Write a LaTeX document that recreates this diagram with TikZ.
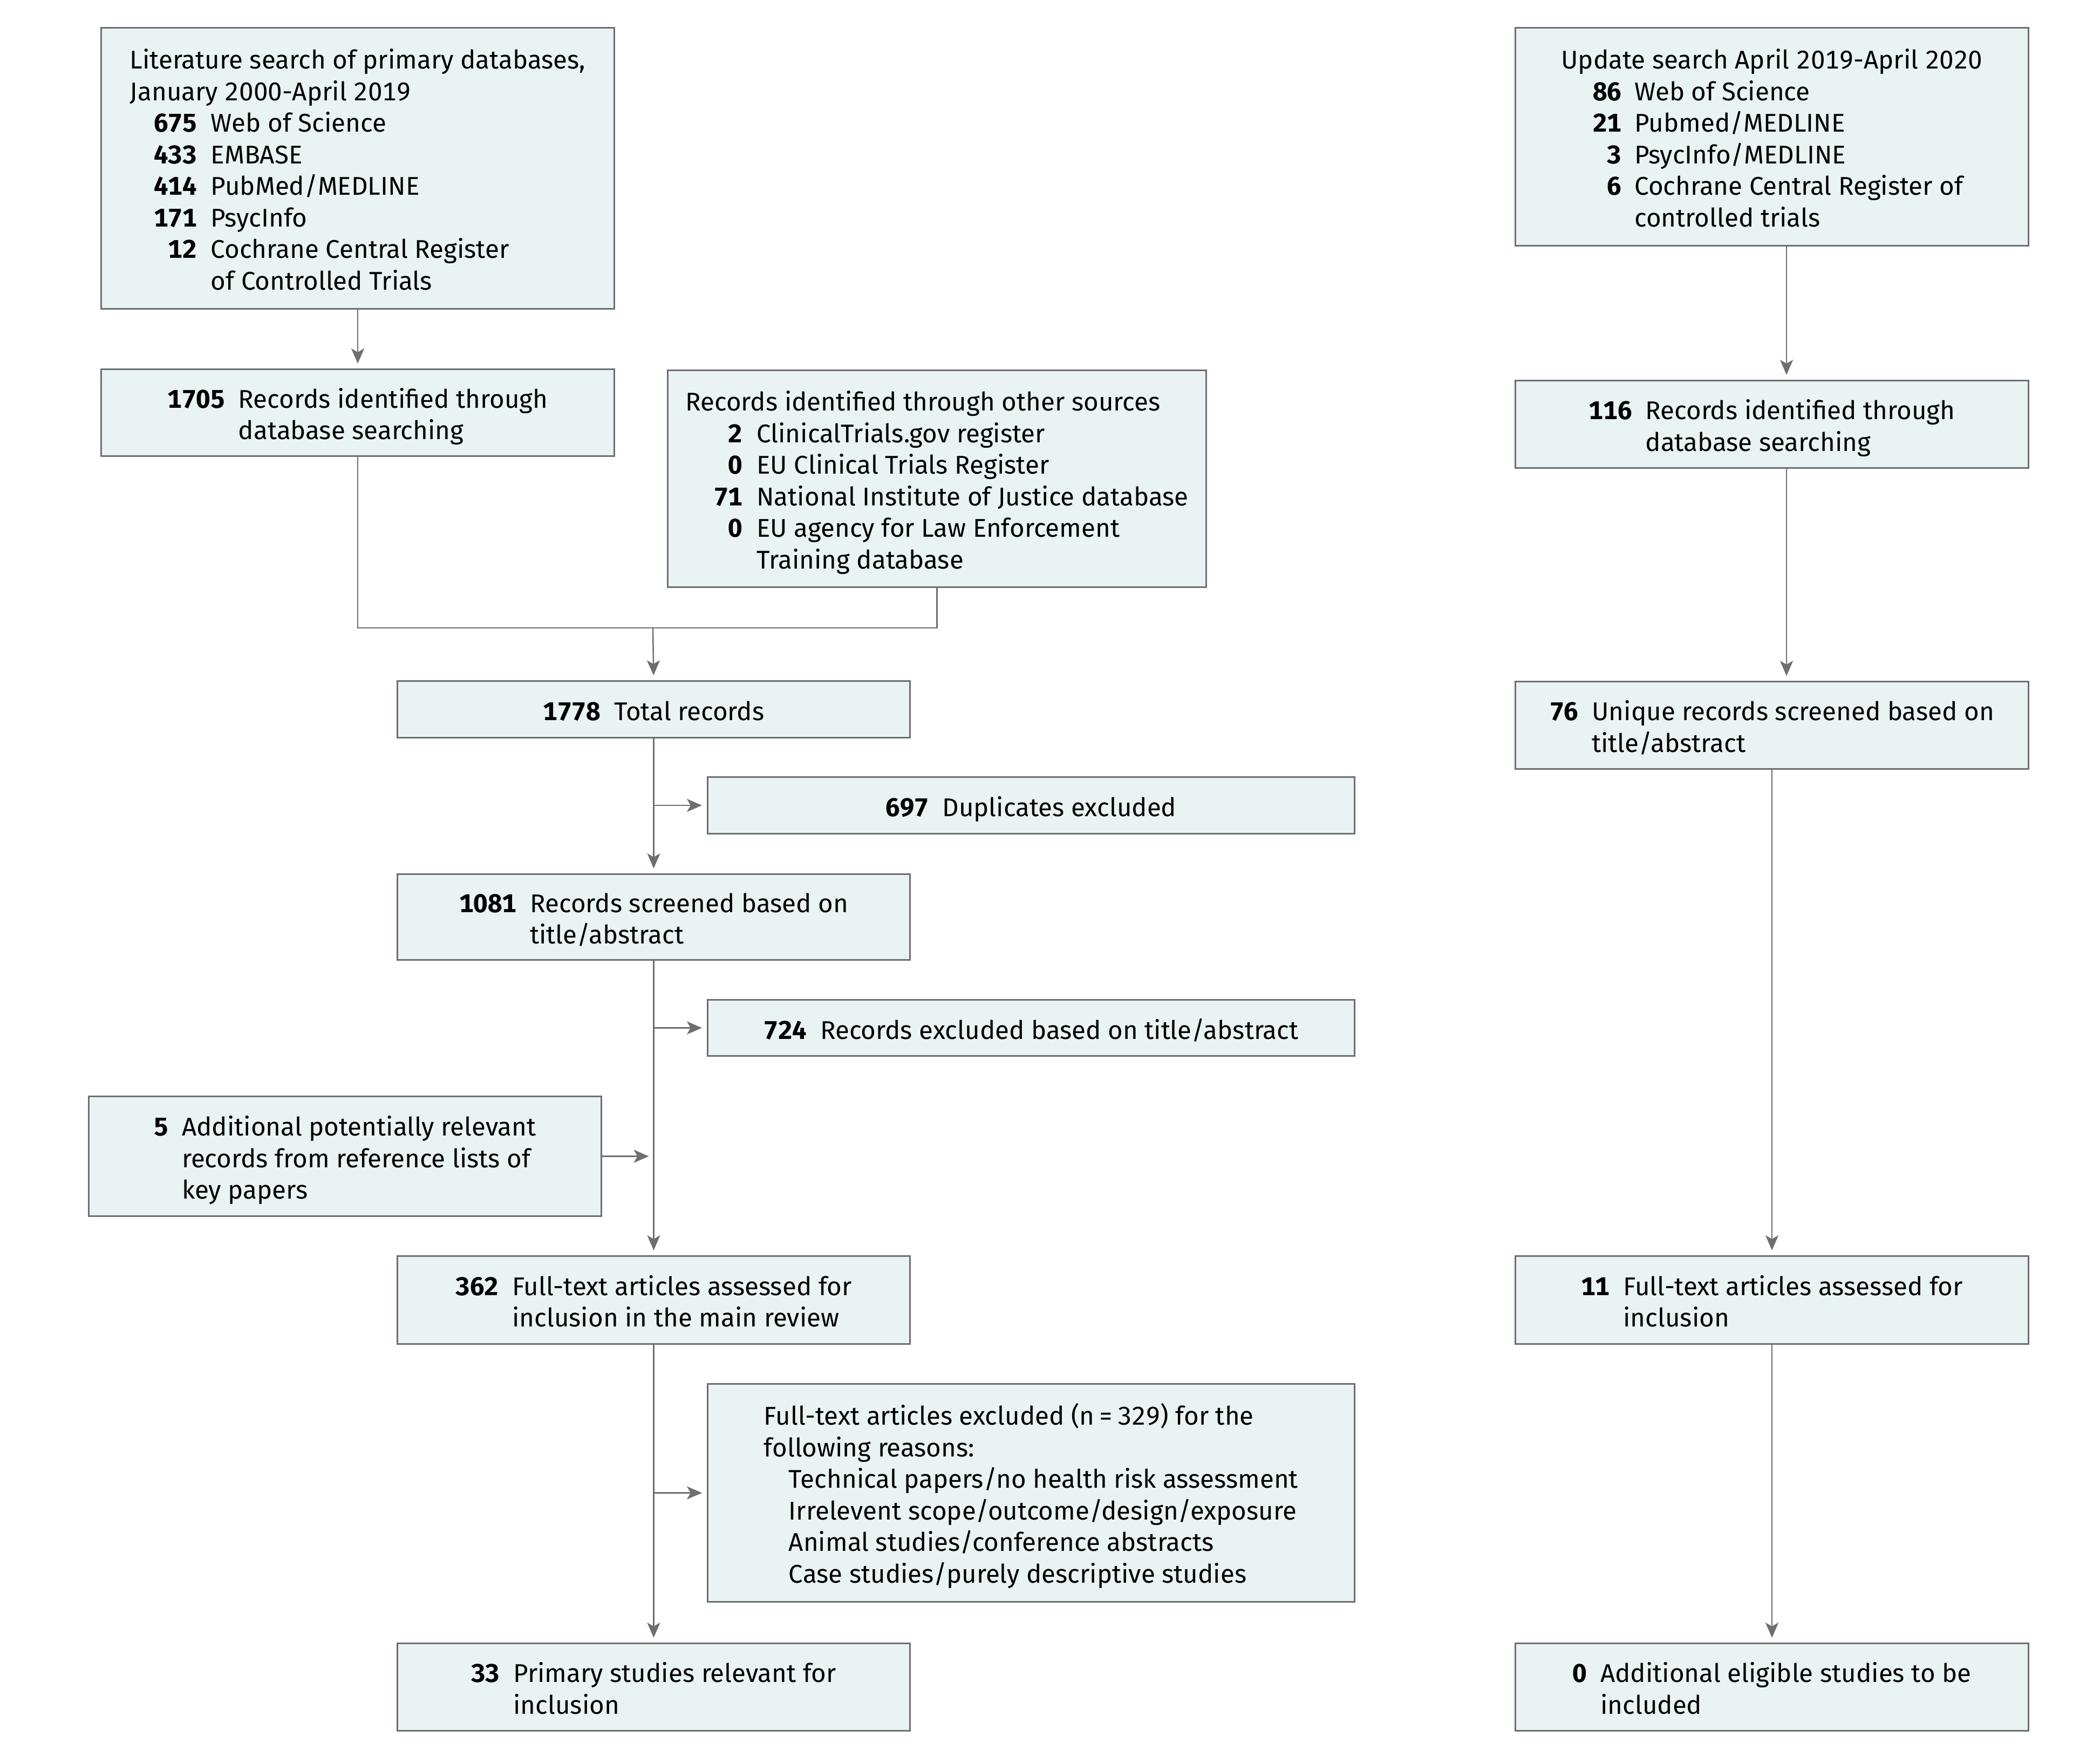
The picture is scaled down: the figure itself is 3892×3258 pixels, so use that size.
\documentclass[tikz,border=0pt]{standalone}
\usepackage{fontspec}
\setmainfont[Numbers=Monospaced]{Fira Sans}
\usepackage{array}
\usetikzlibrary{arrows.meta}
\definecolor{boxfill}{HTML}{E9F3F4}
\definecolor{boxline}{HTML}{6D6E71}
\newcolumntype{N}[1]{>{\raggedleft\arraybackslash\bfseries}p{#1}}
\newcommand\TB[2]{\raisebox{-9pt}[\height][\depth]{\begin{tabular}{#1}#2\end{tabular}}}
\tikzset{
  fbox/.style={draw=boxline, fill=boxfill, line width=3pt, inner sep=0pt, anchor=north west,
    font=\fontsize{47.5}{58.5}\selectfont},
  conn/.style={draw=boxline, line width=2.5pt},
  arr/.style={conn, -{Stealth[length=28pt,width=24pt,inset=7pt]}, shorten >=9pt},
}
\begin{document}
\begin{tikzpicture}[x=1pt,y=-1pt]
\useasboundingbox (0,0) rectangle (3892,3258);

% left column
\node[fbox, minimum width=951pt, minimum height=521pt] (b1) at (186,50) {%
\TB{@{}N{124pt}@{\hspace{26pt}}l@{}}{%
\multicolumn{2}{@{}l@{}}{Literature search of primary databases,}\\
\multicolumn{2}{@{}l@{}}{January 2000-April 2019}\\
675 & Web of Science\\
433 & EMBASE\\
414 & PubMed/MEDLINE\\
171 & PsycInfo\\
12 & Cochrane Central Register\\
 & of Controlled Trials}};

\node[fbox, minimum width=951pt, minimum height=161pt] (b2) at (186,683) {%
\TB{@{}>{\bfseries}r@{\hspace{25pt}}l@{}}{%
1705 & Records identified through\\
 & database searching}};

\node[fbox, minimum width=998pt, minimum height=402pt] (oth) at (1236,685) {%
\TB{@{}N{106pt}@{\hspace{26pt}}l@{}}{%
\multicolumn{2}{@{}l@{}}{Records identified through other sources}\\
2 & ClinicalTrials.gov register\\
0 & EU Clinical Trials Register\\
71 & National Institute of Justice database\\
0 & EU agency for Law Enforcement\\
 & Training database}};

\node[fbox, minimum width=950pt, minimum height=105pt] (tot) at (735,1261) {%
\TB{@{}>{\bfseries}r@{\hspace{25pt}}l@{}}{%
1778 & Total records}};

\node[fbox, minimum width=1199pt, minimum height=105pt] (dup) at (1310,1439) {%
\TB{@{}>{\bfseries}r@{\hspace{25pt}}l@{}}{%
697 & Duplicates excluded}};

\node[fbox, minimum width=950pt, minimum height=159pt] (s1081) at (735,1619) {%
\TB{@{}>{\bfseries}r@{\hspace{25pt}}l@{}}{%
1081 & Records screened based on\\
 & title/abstract}};

\node[fbox, minimum width=1199pt, minimum height=104pt] (ex724) at (1310,1852) {%
\TB{@{}>{\bfseries}r@{\hspace{25pt}}l@{}}{%
724 & Records excluded based on title/abstract}};

\node[fbox, minimum width=950pt, minimum height=222pt] (add5) at (163,2031) {%
\TB{@{}>{\bfseries}r@{\hspace{25pt}}l@{}}{%
5 & Additional potentially relevant\\
 & records from reference lists of\\
 & key papers}};

\node[fbox, minimum width=950pt, minimum height=163pt] (ft362) at (735,2327) {%
\TB{@{}>{\bfseries}r@{\hspace{25pt}}l@{}}{%
362 & Full-text articles assessed for\\
 & inclusion in the main review}};

\node[fbox, minimum width=1199pt, minimum height=404pt] (rsn) at (1310,2564) {%
\TB{@{}l@{}}{%
Full-text articles excluded (n\,=\,329) for the\\
following reasons:\\
\hspace*{46pt}Technical papers/no health risk assessment\\
\hspace*{46pt}Irrelevent scope/outcome/design/exposure\\
\hspace*{46pt}Animal studies/conference abstracts\\
\hspace*{46pt}Case studies/purely descriptive studies}};

\node[fbox, minimum width=950pt, minimum height=162pt] (inc33) at (735,3045) {%
\TB{@{}>{\bfseries}r@{\hspace{25pt}}l@{}}{%
33 & Primary studies relevant for\\
 & inclusion}};

% right column
\node[fbox, minimum width=951pt, minimum height=404pt] (upd) at (2807,50) {%
\TB{@{}N{112pt}@{\hspace{24pt}}l@{}}{%
\multicolumn{2}{@{}l@{}}{Update search April 2019-April 2020}\\
86 & Web of Science\\
21 & Pubmed/MEDLINE\\
3 & PsycInfo/MEDLINE\\
6 & Cochrane Central Register of\\
 & controlled trials}};

\node[fbox, minimum width=951pt, minimum height=162pt] (r116) at (2807,704) {%
\TB{@{}>{\bfseries}r@{\hspace{25pt}}l@{}}{%
116 & Records identified through\\
 & database searching}};

\node[fbox, minimum width=951pt, minimum height=162pt] (r76) at (2807,1262) {%
\TB{@{}>{\bfseries}r@{\hspace{25pt}}l@{}}{%
76 & Unique records screened based on\\
 & title/abstract}};

\node[fbox, minimum width=951pt, minimum height=163pt] (r11) at (2807,2327) {%
\TB{@{}>{\bfseries}r@{\hspace{25pt}}l@{}}{%
11 & Full-text articles assessed for\\
 & inclusion}};

\node[fbox, minimum width=951pt, minimum height=162pt] (r0) at (2807,3045) {%
\TB{@{}>{\bfseries}r@{\hspace{25pt}}l@{}}{%
0 & Additional eligible studies to be\\
 & included}};

% connectors, left
\coordinate (mg) at (1210,1164);
\draw[arr] (b1.south) -- (b2.north);
\draw[conn] (b2.south) |- (mg) -| (oth.south);
\draw[arr] (mg) -- (tot.north);
\draw[arr] (tot.south) -- (s1081.north);
\draw[arr] (tot.south |- dup.west) -- (dup.west);
\draw[arr] (s1081.south) -- (ft362.north);
\draw[arr] (s1081.south |- ex724.west) -- (ex724.west);
\draw[arr] (add5.east) -- (add5.east -| s1081.south);
\draw[arr] (ft362.south) -- (inc33.north);
\draw[arr] (ft362.south |- rsn.west) -- (rsn.west);

% connectors, right
\draw[arr] ([xshift=27pt]upd.south) -- ([xshift=27pt]r116.north);
\draw[arr] ([xshift=27pt]r116.south) -- ([xshift=27pt]r76.north);
\draw[arr] (r76.south) -- (r11.north);
\draw[arr] (r11.south) -- (r0.north);
\end{tikzpicture}
\end{document}
